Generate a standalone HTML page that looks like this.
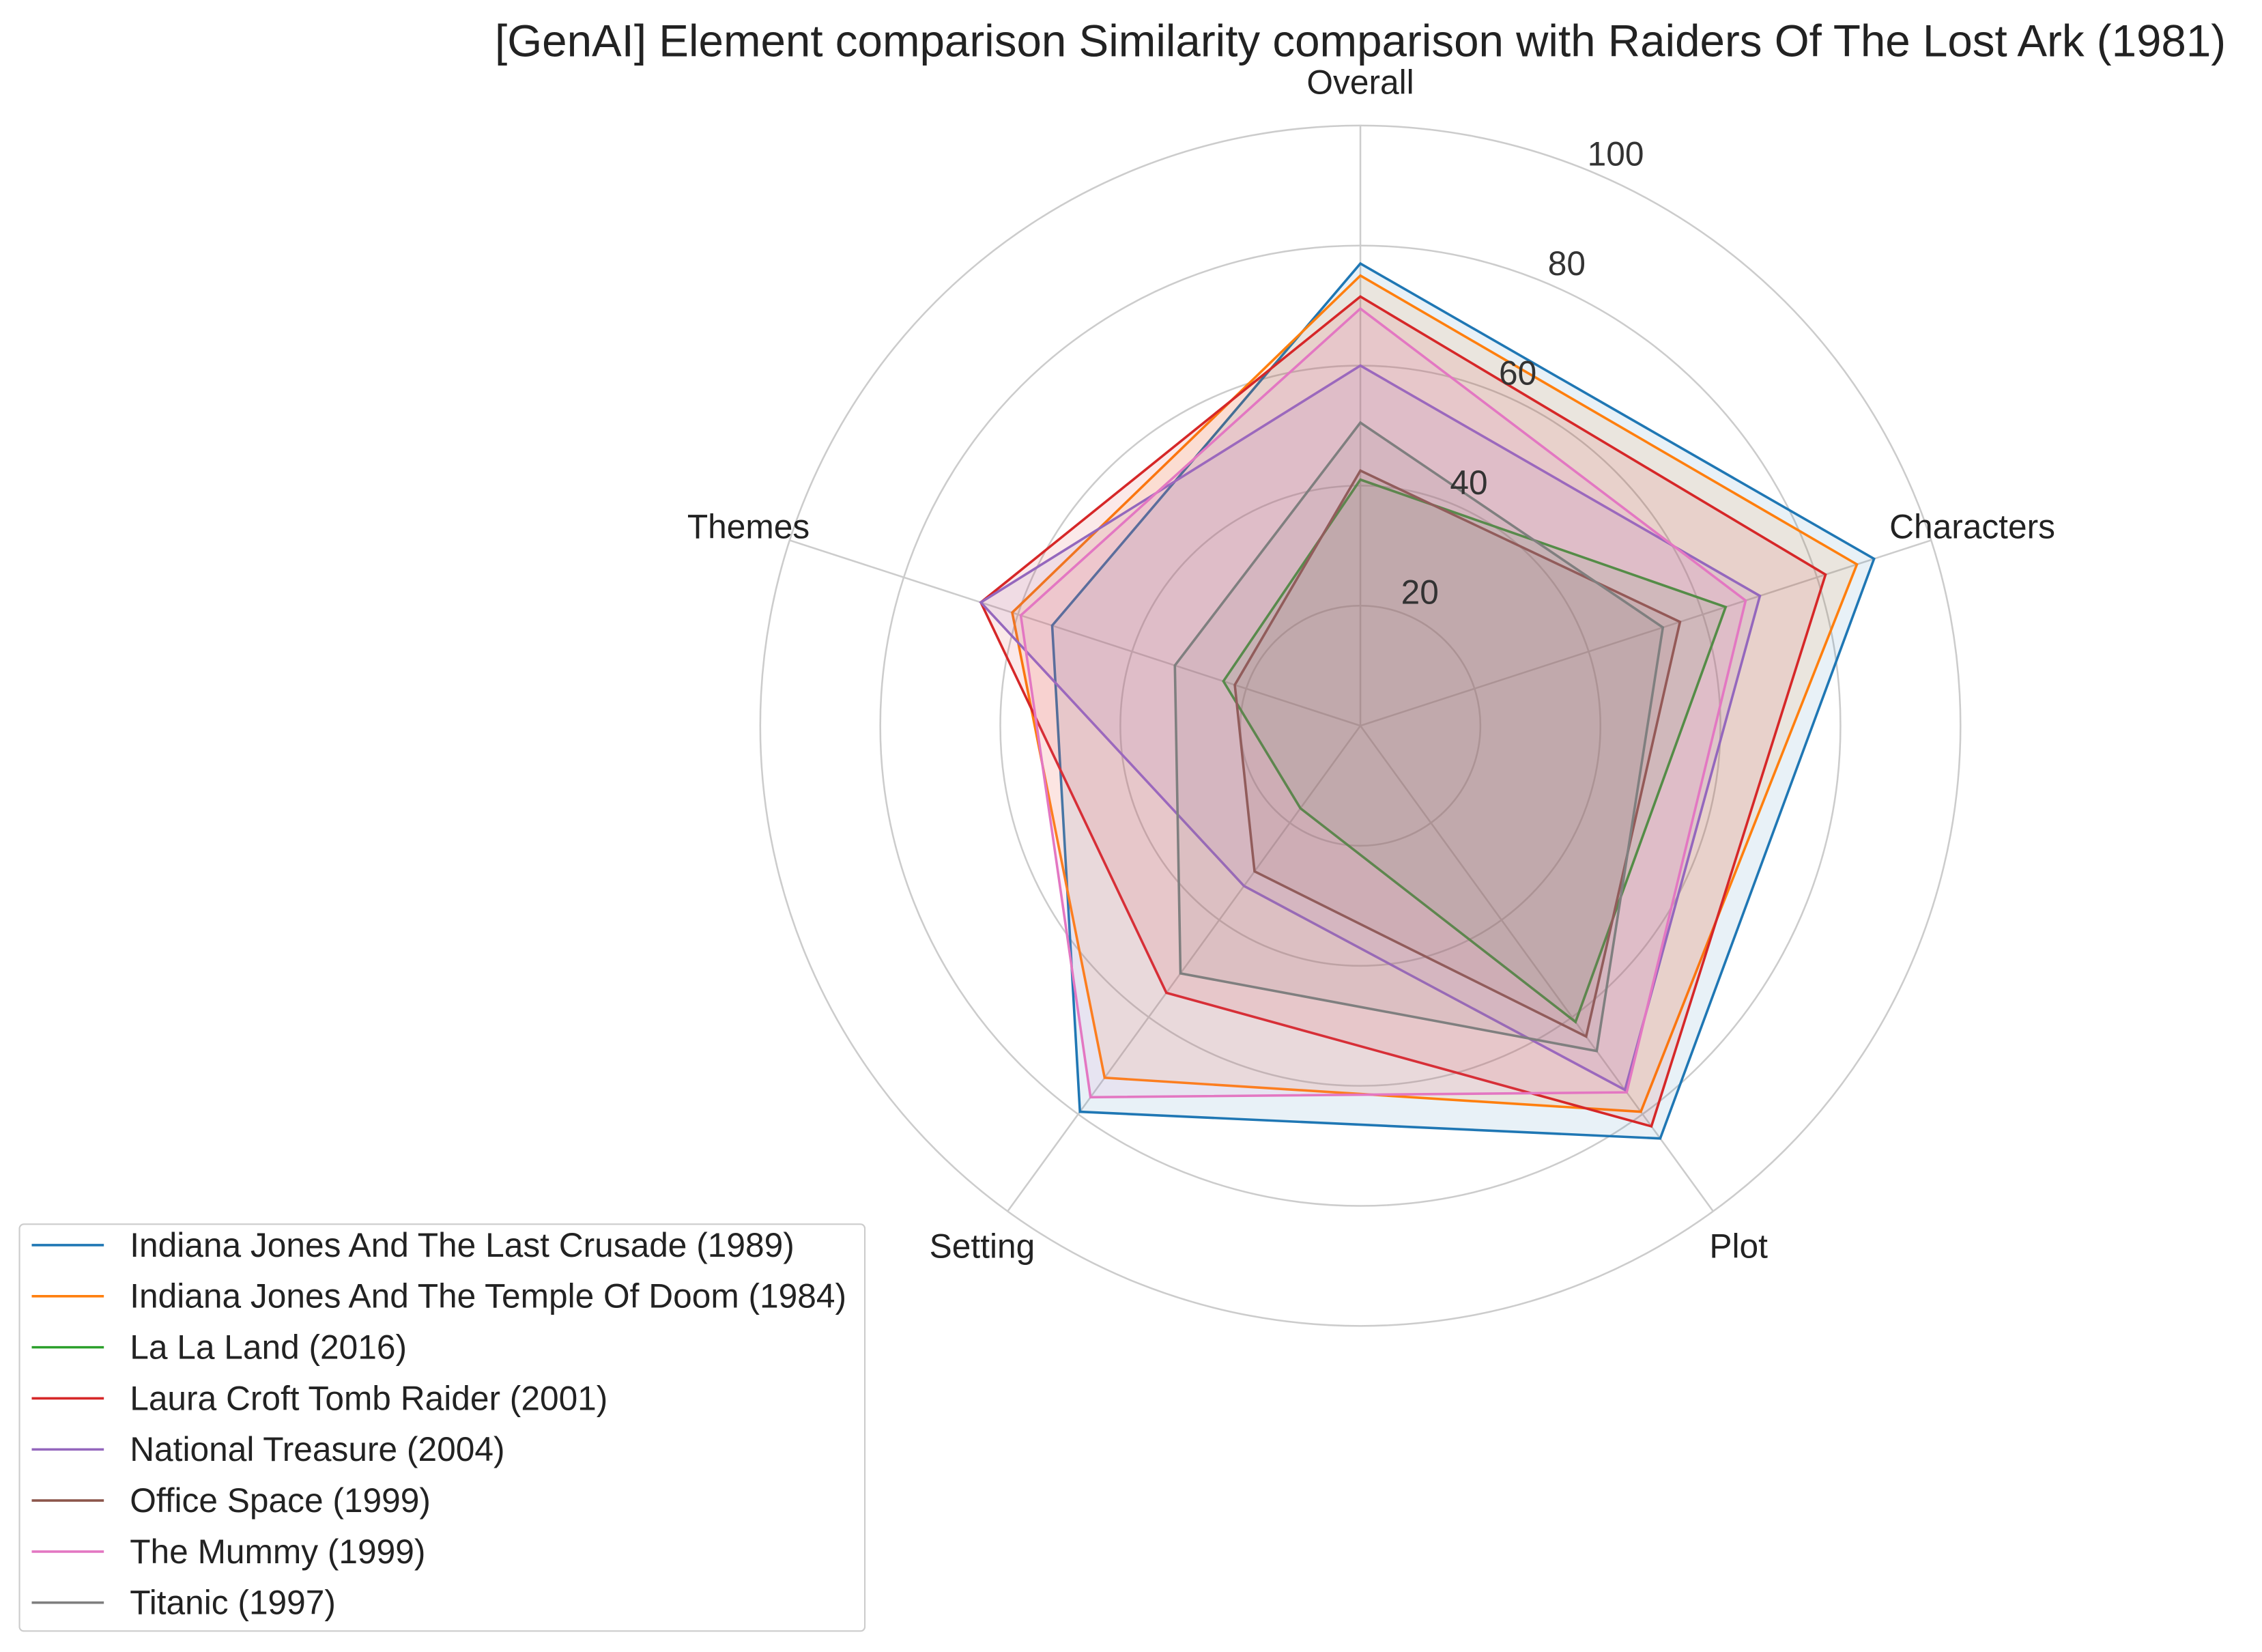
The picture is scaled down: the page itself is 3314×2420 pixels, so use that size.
<!DOCTYPE html>
<html><head><meta charset="utf-8"><style>
html,body{margin:0;padding:0;background:#fff;}
svg{display:block;font-family:"Liberation Sans","DejaVu Sans",sans-serif;}
</style></head><body>
<svg id="chart" width="3314" height="2420" viewBox="0 0 1568 1145" preserveAspectRatio="none" xmlns="http://www.w3.org/2000/svg">
<text x="943" y="39" font-size="31" text-anchor="middle" fill="#222">[GenAI] Element comparison Similarity comparison with Raiders Of The Lost Ark (1981)</text>
<g id="grid"></g><g id="series"></g><g id="labels"></g><g id="legend"></g>
</svg>
<script>
const categories = ["Overall","Characters","Plot","Setting","Themes"];
const seriesNames = ["Indiana Jones And The Last Crusade (1989)","Indiana Jones And The Temple Of Doom (1984)","La La Land (2016)","Laura Croft Tomb Raider (2001)","National Treasure (2004)","Office Space (1999)","The Mummy (1999)","Titanic (1997)"];
const lastCrusade = [77,90,85,79.5,54];
const templeOfDoom = [75,87,79.5,72.5,61];
const laLaLand = [41,64,61,17,24];
const tombRaider = [71.5,81.5,82.5,55,66.5];
const nationalTreasure = [60,70,75,33,66.5];
const officeSpace = [42.5,56,64,30,22];
const theMummy = [69.5,67.5,75.5,76.5,59.5];
const titanic = [50.5,53,67,51,32.5];
const seriesValues = [lastCrusade,templeOfDoom,laLaLand,tombRaider,nationalTreasure,officeSpace,theMummy,titanic];
const tickLabels = [20,40,60,80,100];
const colors = ["#1f77b4","#ff7f0e","#2ca02c","#d62728","#9467bd","#8c564b","#e377c2","#7f7f7f"];
const NS="http://www.w3.org/2000/svg";
const cx=943, cy=503, R=416, maxV=100;
function ang(i){return -Math.PI/2 + i*2*Math.PI/categories.length;}
function pt(i,v){const a=ang(i), r=v/maxV*R; return [cx+r*Math.cos(a), cy+r*Math.sin(a)];}
function mk(tag,attrs,parent){const e=document.createElementNS(NS,tag);for(const k in attrs)e.setAttribute(k,attrs[k]);parent.appendChild(e);return e;}
const grid=document.getElementById('grid'), ser=document.getElementById('series'), lab=document.getElementById('labels'), leg=document.getElementById('legend');
tickLabels.forEach(t=>{
  const c=mk('circle',{cx:cx,cy:cy,r:t/maxV*R,fill:'none',stroke:'#cccccc','stroke-width':1.2},grid);
  
  
});
categories.forEach((c,i)=>{
  const p=pt(i,maxV);
  const l=mk('line',{x1:cx,y1:cy,x2:p[0],y2:p[1],stroke:'#cccccc','stroke-width':1.2},grid);
  
  
  const a=ang(i), rr=R+30;
  const tx=mk('text',{x:cx+rr*Math.cos(a),y:cy+rr*Math.sin(a)+8,'font-size':23.5,'text-anchor':'middle',fill:'#222'},lab);
  tx.textContent=c;
  
  
});
seriesValues.forEach((vals,s)=>{
  const pts=vals.map((v,i)=>pt(i,v).join(',')).join(' ');
  const pg=mk('polygon',{points:pts,fill:colors[s],'fill-opacity':0.1,stroke:colors[s],'stroke-width':1.7,'stroke-linejoin':'miter'},ser);
  
  
});
tickLabels.forEach(t=>{
  const a=-Math.PI/2+0.42, r=t/maxV*R+18;
  const tx=mk('text',{x:cx+r*Math.cos(a),y:cy+r*Math.sin(a)+8,'font-size':23.5,'text-anchor':'middle',fill:'#333'},lab);
  tx.textContent=t;
  
  
});
const box=mk('rect',{x:13.5,y:848.5,width:586,height:282,rx:3,fill:'#fff','fill-opacity':0.8,stroke:'#cccccc','stroke-width':1},leg);


seriesNames.forEach((n,s)=>{
  const y=863+s*35.4;
  const ln=mk('line',{x1:22,y1:y,x2:72,y2:y,stroke:colors[s],'stroke-width':1.7},leg);
  
  
  const tx=mk('text',{x:90,y:y+8,'font-size':23.5,fill:'#222'},leg);
  tx.textContent=n;
  
  
});
</script>
</body></html>
